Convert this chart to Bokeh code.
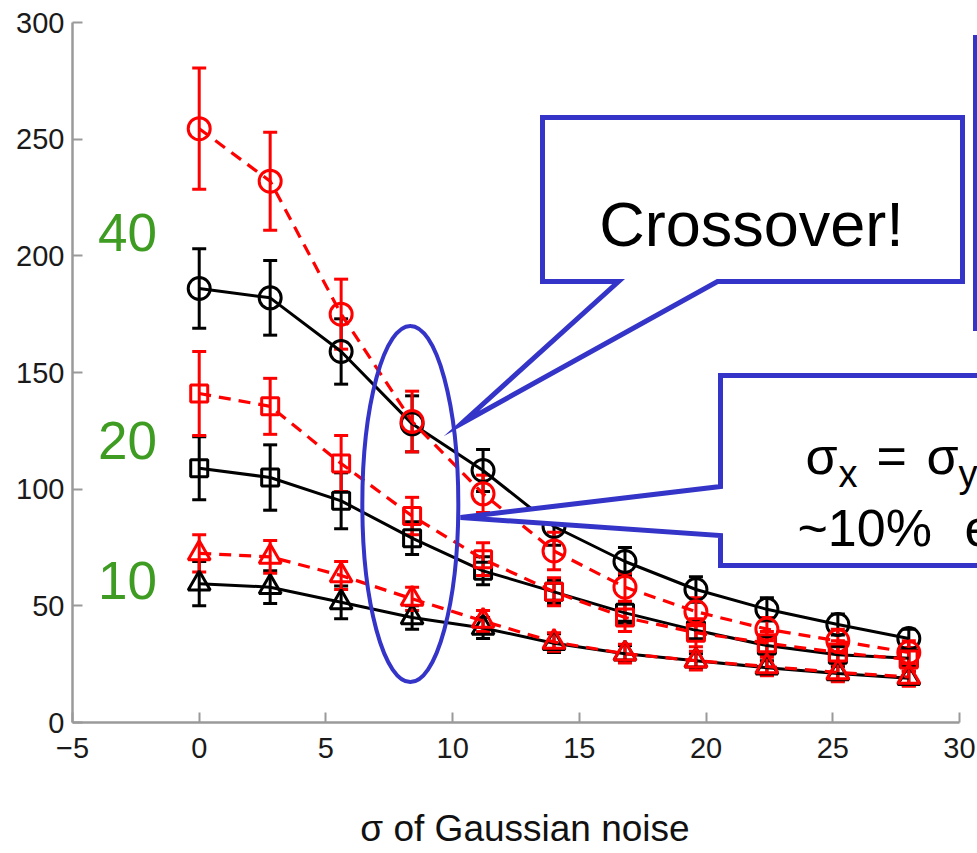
from bokeh.plotting import figure
from bokeh.models import Range1d, FixedTicker, Whisker, TeeHead, ColumnDataSource, Label
from bokeh.embed import file_html
from bokeh.resources import INLINE

# ---------------- data ----------------
noise_sigma = [0, 2.8, 5.6, 8.4, 11.2, 14, 16.8, 19.6, 22.4, 25.2, 28]

black_40 = [186, 182, 159, 128, 108, 84, 69, 57, 48.5, 42, 36]
black_40_err = [17, 16, 14, 12, 9, 8, 6, 5.5, 5, 4.5, 4]
red_40 = [254.5, 232, 175, 129, 98, 73.5, 58, 47.5, 40, 35, 30]
red_40_err = [26, 21, 15, 13, 8, 8, 6, 6, 5, 5, 5]

black_20 = [109, 105, 95, 79, 65, 56, 47, 39.5, 33, 29, 27.5]
black_20_err = [13.5, 14, 12, 7, 6, 5, 4.5, 4, 4, 3.5, 3.5]
red_20 = [141, 135.5, 111, 88.5, 70, 56, 45, 38.5, 34, 30, 27]
red_20_err = [18, 12, 12, 8, 7, 6, 6, 6, 5, 5, 5]

black_10 = [59.5, 58, 51.5, 45, 40.5, 34, 29.5, 26.5, 23.5, 21, 19]
black_10_err = [9.5, 7, 7, 5, 4.5, 4, 3.5, 3, 3, 3, 3]
red_10 = [72.5, 71, 63, 53, 43.5, 34.5, 29.5, 26.5, 24, 21.5, 19.5]
red_10_err = [8, 7, 6, 5, 4.5, 4, 4, 4, 4, 4, 4]

x_ticks = [-5, 0, 5, 10, 15, 20, 25, 30]
y_ticks = [0, 50, 100, 150, 200, 250, 300]
group_labels = ["40", "20", "10"]

# ---------------- styles ----------------
BLUE = "#3434c8"
GREEN = "#3e9c22"
AXIS_GREY = "#9a9a9a"
FONT = "Liberation Sans"

W, H = 977, 851
PX_PER_X = 887 / 35.0      # pixels per x unit
PX_PER_Y = 700 / 300.0     # pixels per y unit
FRAME_LEFT = 72
FRAME_BOTTOM = 722


def dx(px):
    return -5 + (px - FRAME_LEFT) / PX_PER_X


def dy(py):
    return (FRAME_BOTTOM - py) / PX_PER_Y


p = figure(width=W, height=H, output_backend="svg", toolbar_location=None,
           x_range=Range1d(-5, dx(W)), y_range=Range1d(0, dy(0)),
           min_border_left=FRAME_LEFT, min_border_right=0, min_border_top=0,
           min_border_bottom=H - FRAME_BOTTOM)
p.outline_line_color = None
p.xgrid.visible = False
p.ygrid.visible = False
p.background_fill_color = "white"
p.border_fill_color = "white"

for ax, ticks, bnds in ((p.xaxis[0], x_ticks, (-5, 30)), (p.yaxis[0], y_ticks, (0, 300))):
    ax.ticker = FixedTicker(ticks=ticks)
    ax.bounds = bnds
    ax.axis_line_color = AXIS_GREY
    ax.axis_line_width = 2.5
    ax.major_tick_line_color = AXIS_GREY
    ax.major_tick_line_width = 2
    ax.major_tick_in = 10
    ax.major_tick_out = 0
    ax.minor_tick_line_color = None
    ax.major_label_text_font = FONT
    ax.major_label_text_font_size = "29px"
    ax.major_label_text_color = "#1a1a1a"

p.xaxis[0].major_label_overrides = {-5: "\u22125"}
p.xaxis[0].major_label_standoff = 15
p.yaxis[0].major_label_standoff = 8
p.xaxis[0].axis_label = "\u03c3 of Gaussian noise"
p.xaxis[0].axis_label_text_font = FONT
p.xaxis[0].axis_label_text_font_size = "37px"
p.xaxis[0].axis_label_text_font_style = "normal"
p.xaxis[0].axis_label_text_color = "#111111"
p.xaxis[0].axis_label_standoff = 47

series = [
    (black_40, black_40_err, "black", "circle", 22, None),
    (black_20, black_20_err, "black", "square", 17, None),
    (black_10, black_10_err, "black", "triangle", 22, None),
    (red_40, red_40_err, "red", "circle", 22, "12 8"),
    (red_20, red_20_err, "red", "square", 17, "12 8"),
    (red_10, red_10_err, "red", "triangle", 22, "12 8"),
]

for vals, errs, col, mk, sz, dash in series:
    src = ColumnDataSource(dict(
        x=noise_sigma, y=vals,
        upper=[v + e for v, e in zip(vals, errs)],
        lower=[v - e for v, e in zip(vals, errs)]))
    p.add_layout(Whisker(source=src, base="x", upper="upper", lower="lower",
                         line_color=col, line_width=3,
                         upper_head=TeeHead(size=14, line_color=col, line_width=3),
                         lower_head=TeeHead(size=14, line_color=col, line_width=3)))
    if dash:
        p.line("x", "y", source=src, line_color=col, line_width=3.2, line_dash=dash)
    else:
        p.line("x", "y", source=src, line_color=col, line_width=3)
    p.scatter("x", "y", source=src, marker=mk, size=sz, fill_color=None,
              line_color=col, line_width=3)

# highlight ellipse around the crossover point
p.ellipse(x=[noise_sigma[3] - 0.07], y=[dy(503.5)], width=[96 / PX_PER_X],
          height=[356 / PX_PER_Y], fill_color=None, line_color=BLUE, line_width=4)

# callout shapes (pixel outlines converted to data units)
cross_pts = [(542, 117), (962, 117), (962, 281), (717, 281), (461, 423), (618, 281), (542, 281)]
sigma_pts = [(720, 375), (1010, 375), (1010, 565), (720, 565), (720, 535), (460, 517), (720, 486)]
back_box_pts = [(975, 37), (1010, 37), (1010, 328), (975, 328)]
for pts in (back_box_pts, cross_pts, sigma_pts):
    p.patch([dx(a) for a, b in pts], [dy(b) for a, b in pts], fill_color="white",
            line_color=BLUE, line_width=5, line_join="miter")


def lab(px, py, text, size, color="black", align="left"):
    p.add_layout(Label(x=dx(px), y=dy(py), text=text, text_font=FONT,
                       text_font_size=size, text_color=color, text_align=align,
                       text_baseline="alphabetic"))


lab(751, 223, "Crossover!", "63px", align="center")
lab(805, 455, "\u03c3", "52px")
lab(838, 473, "x", "38px")
lab(876, 455, "=", "52px")
lab(926, 455, "\u03c3", "52px")
lab(958, 473, "y", "38px")
lab(797, 527, "~10%", "52px")
lab(964, 527, "error", "52px")

for txt, base in zip(group_labels, (232, 440, 580)):
    lab(127, base, txt, "53px", color=GREEN, align="center")

open("out.html", "w").write(file_html(p, INLINE))
